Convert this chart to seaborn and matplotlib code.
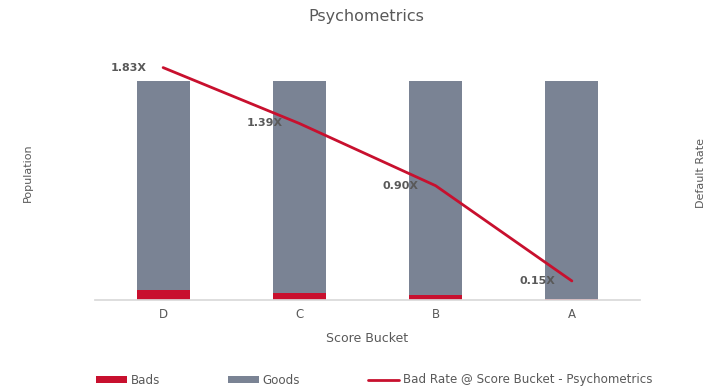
import numpy as np
import pandas as pd
import matplotlib
matplotlib.use("Agg")
import matplotlib.pyplot as plt
from matplotlib.patches import Patch
from matplotlib.lines import Line2D
import seaborn as sns

sns.set_theme(style="white")
plt.rcParams['font.family'] = ['DejaVu Sans']

# Score buckets and population shares (100% stacked)
buckets = ["D", "C", "B", "A"]
bads_share = [0.045, 0.032, 0.022, 0.006]
goods_share = [0.955, 0.968, 0.978, 0.994]
# Bad rate relative to average, per bucket
bad_rate = [1.83, 1.39, 0.90, 0.15]
bad_rate_labels = ["1.83X", "1.39X", "0.90X", "0.15X"]

RED = "#C8102E"
GRAY = "#7A8394"
TXT = "#595959"

df = pd.DataFrame({
    "bucket": buckets,
    "bads": bads_share,
    "total": [b + g for b, g in zip(bads_share, goods_share)],
    "rate": bad_rate,
})

fig = plt.figure(figsize=(7.22, 3.89), dpi=100)
ax = fig.add_axes([95 / 722, 1 - 300 / 389, 545 / 722, 254 / 389])

sns.barplot(data=df, x="bucket", y="total", color=GRAY, width=0.39,
            saturation=1, linewidth=0, ax=ax)
sns.barplot(data=df, x="bucket", y="bads", color=RED, width=0.39,
            saturation=1, linewidth=0, ax=ax)
ax.set_xlim(-0.5, 3.5)
ax.set_ylim(0, 1.16)
ax.set_yticks([])
ax.set_xlabel("Score Bucket", fontsize=9, color=TXT, labelpad=8)
ax.set_ylabel("Population", fontsize=8, color=TXT, labelpad=45)
ax.tick_params(axis="x", length=0, labelsize=8.5, labelcolor=TXT, pad=6)
for side in ["left", "right", "top"]:
    ax.spines[side].set_visible(False)
ax.spines["bottom"].set_color("#D9D9D9")

ax2 = ax.twinx()
sns.lineplot(data=df, x="bucket", y="rate", color=RED, linewidth=2, ax=ax2)
ax2.set_ylim(0, 2.0)
ax2.set_xlim(-0.5, 3.5)
ax2.set_yticks([])
ax2.set_ylabel("Default Rate", fontsize=8, color=TXT, labelpad=40)
for side in ["left", "right", "top", "bottom"]:
    ax2.spines[side].set_visible(False)

for i, (v, lab) in enumerate(zip(bad_rate, bad_rate_labels)):
    ax2.annotate(lab, (i, v), xytext=(-12, 0), textcoords="offset points",
                 ha="right", va="center", fontsize=8, fontweight="bold",
                 color=TXT)

fig.text(0.508, 1 - 17 / 389, "Psychometrics", ha="center", va="center",
         fontsize=11.5, color=TXT)

handles = [
    Patch(facecolor=RED, edgecolor="none"),
    Patch(facecolor=GRAY, edgecolor="none"),
    Line2D([0], [0], color=RED, linewidth=2),
]
labels = ["Bads", "Goods", "Bad Rate @ Score Bucket - Psychometrics"]
fig.legend(handles, labels, loc="center left",
           bbox_to_anchor=(85 / 722, 1 - 380 / 389), ncol=3, frameon=False,
           fontsize=8.6, labelcolor=TXT, handlelength=2.6, handleheight=0.5,
           handletextpad=0.3, columnspacing=5.7)

fig.savefig("out.png", dpi=100)
